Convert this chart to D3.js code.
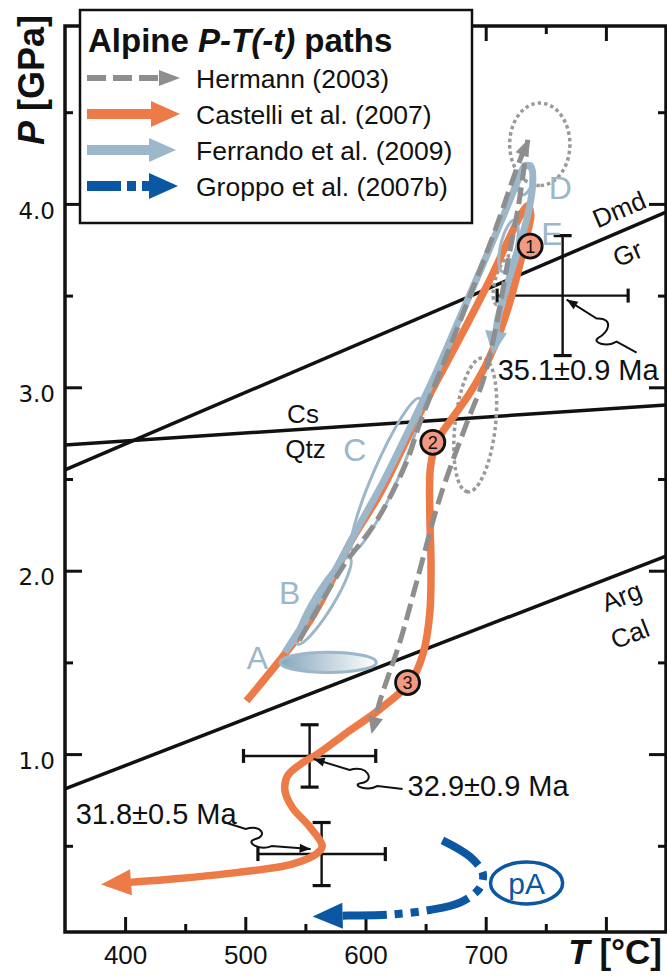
<!DOCTYPE html>
<html><head><meta charset="utf-8">
<script src="https://cdn.jsdelivr.net/npm/d3@7"></script>
<style>body{margin:0;background:#fff}svg{display:block}</style>
</head><body>
<svg id="c" width="667" height="976"></svg>
<script>
// ---------------- DATA ----------------
const xTicksMajor = [400, 500, 600, 700, 800];
const xTicksMinor = [450, 550, 650, 750];
const xTickLabels = ["400", "500", "600", "700", ""];
const yTicksMajor = [1, 2, 3, 4];
const yTicksMinor = [0.5, 1.5, 2.5, 3.5, 4.5];
const yTickLabels = ["1.0", "2.0", "3.0", "4.0"];

// reaction curves [T, P]
const reactionDmdGr = [[350, 2.55], [850, 3.955]];
const reactionCsQtz = [[350, 2.685], [850, 2.903]];
const reactionArgCal = [[350, 0.81], [850, 2.08]];
const reactionLabels = [
  {text: "Dmd", T: 811, P: 3.97, line: "DmdGr"},
  {text: "Gr", T: 818, P: 3.73, line: "DmdGr"},
  {text: "Cs", T: 548, P: 2.855, line: null},
  {text: "Qtz", T: 550, P: 2.665, line: null},
  {text: "Arg", T: 813, P: 1.86, line: "ArgCal"},
  {text: "Cal", T: 820, P: 1.655, line: "ArgCal"}
];

// Castelli et al. (2007) path [T, P]
const castelliPath = [[501,1.29],[531,1.53],[554,1.73],[573,1.96],[587,2.15],[612,2.42],[634,2.71],[651,2.93],[681,3.30],[703,3.58],[723,3.86],[731,3.96],[735,3.99],
  [737.5,3.94],[735,3.85],[728,3.66],[718,3.42],[703,3.16],[687,2.97],[672,2.83],[659,2.70],[654,2.56],[653.5,2.31],[654.5,2.04],[653.5,1.77],[648,1.55],[638,1.40],[613,1.25],[583,1.11],[560,1.00],[547,0.95],[535,0.88],[533,0.80],[539,0.71],[554,0.60],[564,0.50],[560,0.46],[539,0.40],[494,0.355],[435,0.316],[380,0.289]];

// Hermann (2003) paths
const hermannPrograde = [[545,1.62],[581,2.02],[609.5,2.275],[634,2.59],[645,2.80],[666,3.15],[687,3.50],[708,3.86],[724,4.16],[735,4.35]];
const hermannRetrograde = [[735,4.35],[728,4.02],[718,3.67],[708,3.31],[698,3.04],[684,2.80],[662,2.40],[643,1.95],[629,1.62],[612,1.29],[605,1.11]];
const hermannFields = [ // major-axis ends, ratio
  {ends: [[745,4.55],[745,4.10]], ratio: 0.73},
  {ends: [[697.6,3.16],[685,2.43]], ratio: 0.3},
  {ends: [[722,3.72],[709.4,3.45]], ratio: 0.35}
];

// Ferrando et al. (2009)
const ferrandoPath = [[533,1.555],[554,1.77],[574.5,2.00],[595,2.25],[616,2.50],[637,2.78],[658,3.07],[678.5,3.38],[699,3.69],[716,3.955],[727,4.13],[733,4.21],[738,4.195],[739,4.10],[735,3.94],[727,3.75],[718,3.56],[710,3.37],[706,3.175]];
const ferrandoFields = [
  {name: "A", ends: [[529,1.50],[609,1.50]], ratio: 0.21, lT: 510, lP: 1.525},
  {name: "B", ends: [[543,1.60],[587,2.07]], ratio: 0.2, lT: 537, lP: 1.88},
  {name: "C", ends: [[589.5,2.11],[645,2.94]], ratio: 0.15, lT: 591, lP: 2.66},
  {name: "D", ends: [[730,4.05],[737,4.22]], ratio: 0.45, lT: 762, lP: 4.09},
  {name: "E", ends: [[714,3.63],[724,3.91]], ratio: 0.3, lT: 755, lP: 3.84}
];

// Groppo et al. (2007b)
const groppoPath = [[664,0.53],[687,0.44],[697.6,0.35],[695,0.27],[678.5,0.19],[653.5,0.15],[620,0.125],[587,0.12],[556,0.115]];
const groppoField = {name: "pA", ends: [[704,0.297],[764,0.297]], ratio: 0.58};

// numbered points
const stagePoints = [{n: "1", T: 737, P: 3.77}, {n: "2", T: 656, P: 2.70}, {n: "3", T: 635, P: 1.39}];

// age crosses
const ages = [
  {label: "35.1\u00b10.9 Ma", T: 764, P: 3.50, dT: 54.5, dP: 0.327},
  {label: "32.9\u00b10.9 Ma", T: 553.5, P: 0.99, dT: 55, dP: 0.17},
  {label: "31.8\u00b10.5 Ma", T: 563.5, P: 0.455, dT: 53, dP: 0.172}
];

const legendItems = ["Hermann (2003)", "Castelli et al. (2007)", "Ferrando et al. (2009)", "Groppo et al. (2007b)"];

// ---------------- STYLE ----------------
const C_OR = "#EC7B48", C_LB = "#9CB7CA", C_GR = "#8E8E8E", C_DB = "#0B57A3", C_PT = "#F19983";
const FONT = "'Liberation Sans', Arial, Helvetica, sans-serif";

const svg = d3.select("#c");
const x = d3.scaleLinear().domain([350, 850]).range([65, 666]);
const y = d3.scaleLinear().domain([0.03, 4.97]).range([932, 26]);
const P = d => [x(d[0]), y(d[1])];
const curve = d3.line().curve(d3.curveCatmullRom.alpha(0.5));

const defs = svg.append("defs");
const grad = defs.append("linearGradient").attr("id", "gA").attr("x1", "0").attr("x2", "1").attr("y1", "0").attr("y2", "0");
grad.append("stop").attr("offset", "0").attr("stop-color", "#86A7BE");
grad.append("stop").attr("offset", "1").attr("stop-color", "#ffffff");

// axes
function styleAxis(g, w) {
  g.select(".domain").remove();
  g.selectAll(".tick line").attr("stroke", "#111").attr("stroke-width", w);
}
const gx = svg.append("g").attr("transform", `translate(0,${y(0.03)})`)
  .call(d3.axisBottom(x).tickValues(xTicksMajor).tickSize(-15).tickPadding(14).tickFormat((d, i) => xTickLabels[i]));
styleAxis(gx, 3);
gx.selectAll("text").attr("font-family", FONT).attr("font-size", 26).attr("fill", "#111");
styleAxis(svg.append("g").attr("transform", `translate(0,${y(0.03)})`).call(d3.axisBottom(x).tickValues(xTicksMinor).tickSize(-8).tickFormat("")), 3);
styleAxis(svg.append("g").attr("transform", `translate(0,${y(4.97)})`).call(d3.axisTop(x).tickValues(xTicksMajor).tickSize(-15).tickFormat("")), 3);
styleAxis(svg.append("g").attr("transform", `translate(0,${y(4.97)})`).call(d3.axisTop(x).tickValues(xTicksMinor).tickSize(-8).tickFormat("")), 3);
const gy = svg.append("g").attr("transform", `translate(${x(350)},0)`)
  .call(d3.axisLeft(y).tickValues(yTicksMajor).tickSize(-17).tickPadding(10).tickFormat((d, i) => yTickLabels[i]));
styleAxis(gy, 3);
gy.selectAll("text").attr("font-family", "'DejaVu Sans', Verdana, sans-serif").attr("font-size", 23).attr("fill", "#111").attr("dy", "0.62em");
styleAxis(svg.append("g").attr("transform", `translate(${x(350)},0)`).call(d3.axisLeft(y).tickValues(yTicksMinor).tickSize(-8).tickFormat("")), 3);
styleAxis(svg.append("g").attr("transform", `translate(${x(850)},0)`).call(d3.axisRight(y).tickValues(yTicksMajor).tickSize(-17).tickFormat("")), 3);
styleAxis(svg.append("g").attr("transform", `translate(${x(850)},0)`).call(d3.axisRight(y).tickValues(yTicksMinor).tickSize(-8).tickFormat("")), 3);

svg.append("rect").attr("x", x(350)).attr("y", y(4.97)).attr("width", x(850) - x(350)).attr("height", y(0.03) - y(4.97))
  .attr("fill", "none").attr("stroke", "#111").attr("stroke-width", 3.5);

// reaction lines
const plot = svg.append("g");
const reactions = {DmdGr: reactionDmdGr, CsQtz: reactionCsQtz, ArgCal: reactionArgCal};
Object.values(reactions).forEach(r => {
  plot.append("path").attr("d", d3.line()(r.map(P))).attr("stroke", "#111").attr("stroke-width", 3.5).attr("fill", "none");
});
reactionLabels.forEach(l => {
  let ang = 0;
  if (l.line) { const r = reactions[l.line].map(P); ang = Math.atan2(r[1][1] - r[0][1], r[1][0] - r[0][0]) * 180 / Math.PI; }
  plot.append("text").attr("transform", `translate(${x(l.T)},${y(l.P)}) rotate(${ang})`)
    .attr("text-anchor", "middle").attr("dy", "0.35em").attr("font-family", FONT).attr("font-size", 26).attr("fill", "#111").text(l.text);
});

// age crosses
ages.forEach(a => {
  const cx = x(a.T), cy = y(a.P), x0 = x(a.T - a.dT), x1 = x(a.T + a.dT), y0 = y(a.P + a.dP), y1 = y(a.P - a.dP);
  const g = plot.append("g").attr("stroke", "#111").attr("stroke-width", 2.4);
  g.append("line").attr("x1", x0).attr("x2", x1).attr("y1", cy).attr("y2", cy);
  g.append("line").attr("x1", cx).attr("x2", cx).attr("y1", y0).attr("y2", y1);
  g.append("line").attr("x1", x0).attr("x2", x0).attr("y1", cy - 7).attr("y2", cy + 7).attr("stroke-width", 3.2);
  g.append("line").attr("x1", x1).attr("x2", x1).attr("y1", cy - 7).attr("y2", cy + 7).attr("stroke-width", 3.2);
  g.append("line").attr("x1", cx - 9).attr("x2", cx + 9).attr("y1", y0).attr("y2", y0).attr("stroke-width", 3.2);
  g.append("line").attr("x1", cx - 9).attr("x2", cx + 9).attr("y1", y1).attr("y2", y1).attr("stroke-width", 3.2);
});

// helpers
function ellipse(g, ends, ratio) {
  const [p1, p2] = ends.map(P);
  const cx = (p1[0] + p2[0]) / 2, cy = (p1[1] + p2[1]) / 2;
  const a = Math.hypot(p2[0] - p1[0], p2[1] - p1[1]) / 2;
  const ang = Math.atan2(p2[1] - p1[1], p2[0] - p1[0]) * 180 / Math.PI;
  return g.append("ellipse").attr("rx", a).attr("ry", a * ratio).attr("transform", `translate(${cx},${cy}) rotate(${ang})`);
}
function arrowPath(g, data, o) {
  const p = data.map(P);
  const tip = p[p.length - 1], prev = p[p.length - 2];
  const dx = tip[0] - prev[0], dy = tip[1] - prev[1], L = Math.hypot(dx, dy);
  const ux = dx / L, uy = dy / L;
  const base = [tip[0] - ux * o.len, tip[1] - uy * o.len];
  const pp = p.slice(0, -1).concat([[base[0] + ux * 1.5, base[1] + uy * 1.5]]);
  const path = g.append("path").attr("d", curve(pp)).attr("fill", "none").attr("stroke", o.color)
    .attr("stroke-width", o.width).attr("stroke-linecap", "butt").attr("stroke-linejoin", "round");
  if (o.dash) path.attr("stroke-dasharray", o.dash);
  const nx = -uy, ny = ux;
  g.append("polygon").attr("points", [tip, [base[0] + nx * o.hw, base[1] + ny * o.hw], [base[0] - nx * o.hw, base[1] - ny * o.hw]].map(q => q.join(",")).join(" "))
    .attr("fill", o.color);
}

// Hermann dotted fields
hermannFields.forEach(f => ellipse(plot, f.ends, f.ratio).attr("fill", "none").attr("stroke", "#9a9a9a").attr("stroke-width", 3.5).attr("stroke-dasharray", "3.5,3"));

// Castelli
arrowPath(plot, castelliPath, {color: C_OR, width: 7.5, len: 30, hw: 13});

// Ferrando fields and path
ferrandoFields.forEach(f => {
  const e = ellipse(plot, f.ends, f.ratio).attr("stroke", C_LB).attr("stroke-width", 3);
  e.attr("fill", f.name === "A" ? "url(#gA)" : "none");
});
arrowPath(plot, ferrandoPath, {color: C_LB, width: 7, len: 24, hw: 11});
ferrandoFields.forEach(f => {
  plot.append("text").attr("x", x(f.lT)).attr("y", y(f.lP)).attr("dy", "0.36em").attr("text-anchor", "middle")
    .attr("font-family", FONT).attr("font-size", 32).attr("fill", C_LB).text(f.name);
});

// Hermann paths
arrowPath(plot, hermannPrograde, {color: C_GR, width: 5, len: 16, hw: 7, dash: "17,7"});
arrowPath(plot, hermannRetrograde, {color: C_GR, width: 5, len: 17, hw: 7.5, dash: "17,7"});

// stage points
stagePoints.forEach(s => {
  plot.append("circle").attr("cx", x(s.T)).attr("cy", y(s.P)).attr("r", 12).attr("fill", C_PT).attr("stroke", "#111").attr("stroke-width", 2.8);
  plot.append("text").attr("x", x(s.T)).attr("y", y(s.P)).attr("dy", "0.36em").attr("text-anchor", "middle")
    .attr("font-family", FONT).attr("font-size", 18).attr("fill", "#111").text(s.n);
});

// Groppo
arrowPath(plot, groppoPath, {color: C_DB, width: 8, len: 30, hw: 13, dash: "44,8,8,8,8,8"});
ellipse(plot, groppoField.ends, groppoField.ratio).attr("fill", "none").attr("stroke", C_DB).attr("stroke-width", 3.5);
{
  const [p1, p2] = groppoField.ends.map(P);
  plot.append("text").attr("x", (p1[0] + p2[0]) / 2).attr("y", (p1[1] + p2[1]) / 2).attr("dy", "0.36em").attr("text-anchor", "middle")
    .attr("font-family", FONT).attr("font-size", 30).attr("fill", C_DB).text(groppoField.name);
}

// age labels with squiggle leaders (layout offsets relative to cross centres)
const leaderLayouts = [
  {lab: [-65, 84], d: [[4,4],[34,23],[52,22],[46,37],[36,42],[28,47],[44,52],[54,46],[74,57]]},
  {lab: [98, 40], d: [[4,3],[40,14],[58,8],[66,25],[52,27],[40,29],[58,36],[68,30],[93,33]]},
  {lab: [-246, -30], d: [[-11,-5],[-50,-8],[-62,-3],[-78,-12],[-66,-15],[-54,-18],[-60,-30],[-76,-25],[-98,-32]]}
];
ages.forEach((a, i) => {
  const cx = x(a.T), cy = y(a.P), L = leaderLayouts[i];
  const q = L.d.map(o => [cx + o[0], cy + o[1]]);
  const dstr = `M${q[0]}L${q[1]}C${q[2]} ${q[3]} ${q[4]}C${q[5]} ${q[6]} ${q[7]}L${q[8]}`;
  plot.append("path").attr("d", dstr).attr("fill", "none").attr("stroke", "#111").attr("stroke-width", 2);
  const dx = q[0][0] - q[1][0], dy = q[0][1] - q[1][1], l = Math.hypot(dx, dy), ux = dx / l, uy = dy / l;
  const b = [q[0][0] - ux * 11, q[0][1] - uy * 11];
  plot.append("polygon").attr("points", [q[0], [b[0] - uy * 4.5, b[1] + ux * 4.5], [b[0] + uy * 4.5, b[1] - ux * 4.5]].map(p => p.join(",")).join(" ")).attr("fill", "#111");
  plot.append("text").attr("x", cx + L.lab[0]).attr("y", cy + L.lab[1]).attr("font-family", FONT).attr("font-size", 29).attr("fill", "#111").text(a.label);
});

// axis titles
svg.append("text").attr("transform", "translate(44,80) rotate(-90)").attr("text-anchor", "middle")
  .attr("font-family", FONT).attr("font-size", 36).attr("font-weight", "bold").attr("fill", "#111")
  .call(t => { t.append("tspan").attr("font-style", "italic").text("P"); t.append("tspan").text(" [GPa]"); });
svg.append("text").attr("x", 662).attr("y", 964).attr("text-anchor", "end")
  .attr("font-family", FONT).attr("font-size", 35).attr("font-weight", "bold").attr("fill", "#111")
  .call(t => { t.append("tspan").attr("font-style", "italic").text("T"); t.append("tspan").text(" [\u00b0C]"); });

// legend
const lg = svg.append("g");
lg.append("rect").attr("x", 80).attr("y", 10).attr("width", 392).attr("height", 213).attr("fill", "#fff").attr("stroke", "#111").attr("stroke-width", 2.5);
lg.append("text").attr("x", 88).attr("y", 52).attr("font-family", FONT).attr("font-size", 33).attr("font-weight", "bold").attr("fill", "#111")
  .call(t => { t.append("tspan").text("Alpine "); t.append("tspan").attr("font-style", "italic").text("P-T(-t)"); t.append("tspan").text(" paths"); });
const ly = [78, 114, 150, 186];
legendItems.forEach((s, i) => {
  lg.append("text").attr("x", 196).attr("y", ly[i]).attr("dy", "0.36em").attr("font-family", FONT).attr("font-size", 26.5).attr("fill", "#111").text(s);
});
function legArrow(yy, color, w, dash, x1, tipX, hw) {
  const l = lg.append("line").attr("x1", 87).attr("x2", x1).attr("y1", yy).attr("y2", yy).attr("stroke", color).attr("stroke-width", w);
  if (dash) l.attr("stroke-dasharray", dash);
  lg.append("polygon").attr("points", `${x1 - 1},${yy - hw} ${tipX},${yy} ${x1 - 1},${yy + hw}`).attr("fill", color);
}
legArrow(ly[0], C_GR, 6, "19,7", 160, 180, 8);
legArrow(ly[1], C_OR, 10, null, 152, 180, 13);
legArrow(ly[2], C_LB, 10, null, 150, 176, 12);
legArrow(ly[3], C_DB, 10, "34,6,9,6,9,6", 150, 178, 13);
</script>
</body></html>
